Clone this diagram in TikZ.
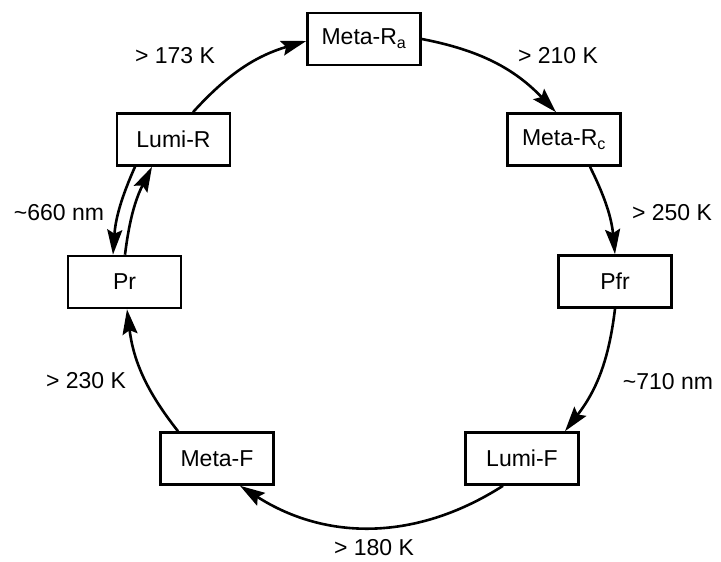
\documentclass[tikz,border=0pt]{standalone}
\usepackage{fontspec}
\setmainfont{Liberation Sans}
\usetikzlibrary{arrows.meta}
\tikzset{
  statebox/.style={draw, line width=2.6pt, minimum width=113pt, minimum height=52pt, inner sep=0pt,
    font=\fontsize{23}{27}\selectfont},
  steplabel/.style={font=\fontsize{23}{27}\selectfont, inner sep=0pt},
  conn/.style={line width=2.6pt, -{Stealth[length=25pt,width=15pt,inset=4pt]}}
}
\begin{document}
\begin{tikzpicture}[x=1pt,y=-1pt]
\useasboundingbox (0,0) rectangle (721,562);
\node[statebox] (MetaRa) at (364,39) {Meta-R\textsubscript{a}};
\node[statebox] (MetaRc) at (564,139.5) {Meta-R\textsubscript{c}};
\node[statebox] (Pfr) at (615,281.5) {Pfr};
\node[statebox] (LumiF) at (522,458.5) {Lumi-F};
\node[statebox] (MetaF) at (217,458.5) {Meta-F};
\node[statebox] (Pr) at (124.5,282) {Pr};
\node[statebox] (LumiR) at (173.5,139.5) {Lumi-R};

\draw[conn] ([xshift=19.5pt]LumiR.north) to[bend left=15.6] ([yshift=-2pt]MetaRa.west);
\draw[conn] (MetaRa.east) to[bend left=17.7] ([xshift=-8pt]MetaRc.north);
\draw[conn] ([xshift=26pt]MetaRc.south) to[bend left=10.5] (Pfr.north);
\draw[conn] (Pfr.south) to[bend left=15.4] ([xshift=43pt]LumiF.north);
\draw[conn] ([xshift=-19pt]LumiF.south) to[bend left=32.6] ([xshift=23pt]MetaF.south);
\draw[conn] ([xshift=-39pt]MetaF.north) to[bend left=15.6] ([xshift=2.5pt]Pr.south);
\draw[conn] ([xshift=-38.5pt]LumiR.south) to[bend right=10] ([xshift=-11.5pt]Pr.north);
\draw[conn] ([xshift=0.5pt]Pr.north) to[bend left=10] ([xshift=-21.5pt]LumiR.south);

\node[steplabel] (l173) at (175,56) {> 173 K};
\node[steplabel] (l210) at (558,56) {> 210 K};
\node[steplabel] (l250) at (672,213) {> 250 K};
\node[steplabel] (l710) at (668,382) {\textasciitilde 710 nm};
\node[steplabel] (l180) at (374,548) {> 180 K};
\node[steplabel] (l230) at (86,381) {> 230 K};
\node[steplabel] (l660) at (59,213) {\textasciitilde 660 nm};
\end{tikzpicture}
\end{document}
